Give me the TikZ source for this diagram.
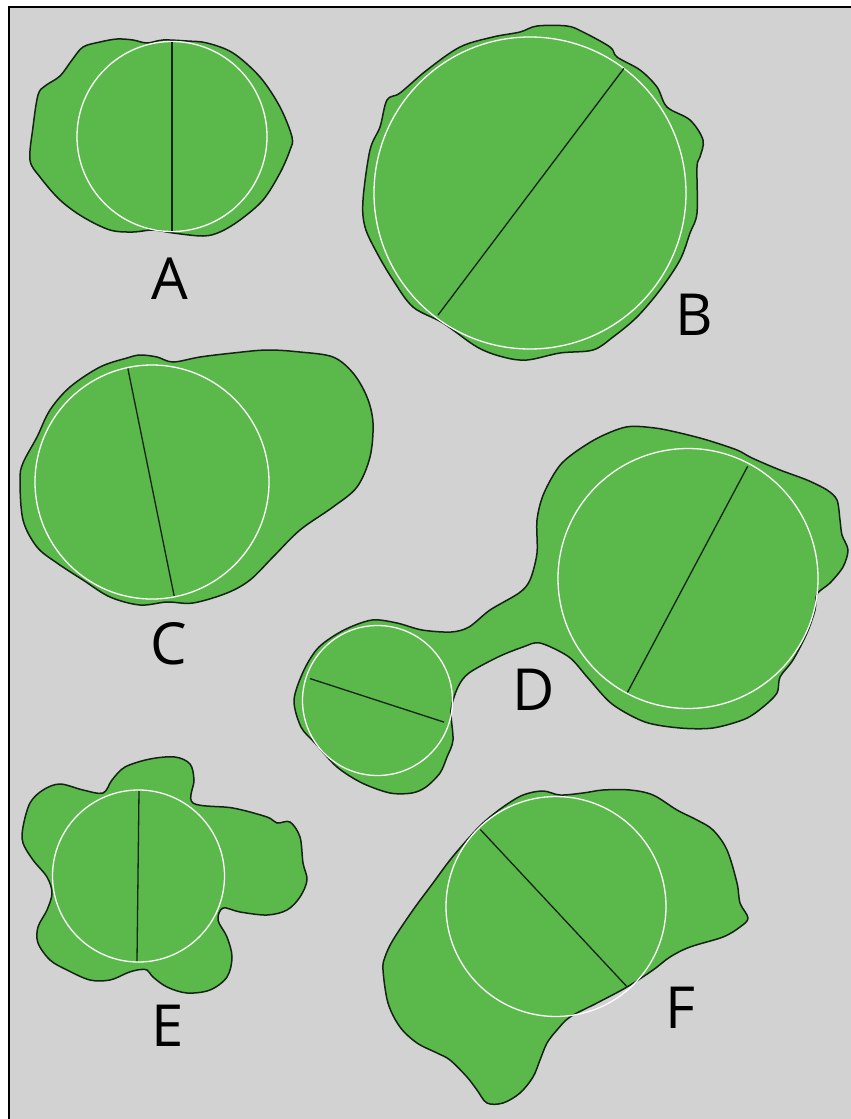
\documentclass[tikz,border=0pt]{standalone}
\usepackage{fontspec}
\usetikzlibrary{calc}
\newfontfamily\labelfont{Open Sans}
\definecolor{bggray}{RGB}{210,210,210}
\definecolor{leaf}{RGB}{90,185,74}
\definecolor{edge}{RGB}{20,35,20}
\tikzset{
  blob/.style={fill=leaf, draw=edge, line width=1.5pt, line join=round},
  ring/.style={draw=white, line width=1.3pt},
  diam/.style={draw=edge, line width=1.3pt},
  letter/.style={font=\labelfont\fontsize{58}{60}\selectfont, text=black, inner sep=0pt}
}
\begin{document}
\begin{tikzpicture}[x=1pt,y=-1pt]
\useasboundingbox (0,0) rectangle (851,1119);
\fill[white] (0,0) rectangle (851,1119);
\begin{scope}
\clip (0,0) rectangle (851,1119);
\draw[fill=bggray, draw=black, line width=2pt] (9,7) rectangle (860,1130);
\end{scope}

% ---------- A ----------
\draw[blob] plot[smooth cycle, tension=0.55] coordinates {
(72,60) (83,47) (100,42) (117,39) (133,40) (147,43) (163,40) (187,41) (207,43)
(233,53) (260,77) (280,107) (292,137) (290,150) (280,173) (263,200) (240,220)
(220,232) (203,236) (173,233) (153,230) (133,232) (110,230) (83,217) (60,200)
(40,177) (30,160) (33,127) (38,95) (45,86) (60,76)};
\coordinate (cA) at (172,136.5);
\draw[ring] (cA) circle[radius=95];
\coordinate (a1) at (172,42);
\coordinate (a2) at (172,231);
\draw[diam] (a1) -- (a2);
\node[letter] (lA) at (170,279) {A};

% ---------- B ----------
\draw[blob] plot[smooth cycle, tension=0.55] coordinates {
(363,200) (370,150) (380,127) (387,100) (400,93) (427,70) (460,47) (493,37)
(520,32) (537,26) (567,26) (583,32) (610,47) (617,57) (640,70) (657,87)
(667,107) (690,120) (703,140) (700,157) (697,167) (697,213) (690,233)
(680,260) (660,290) (637,317) (613,337) (593,350) (560,353) (527,360)
(503,357) (477,347) (443,323) (413,307) (393,280) (377,253) (365,227)};
\coordinate (cB) at (530,193);
\draw[ring] (cB) circle[radius=156];
\coordinate (b1) at ($(cB)+(-53:156)$);
\coordinate (b2) at ($(cB)+(127:153)$);
\draw[diam] (b1) -- (b2);
\node[letter] (lB) at (694,315) {B};

% ---------- C ----------
\draw[blob] plot[smooth cycle, tension=0.55] coordinates {
(20,480) (23,463) (37,437) (50,410) (70,387) (100,367) (127,358) (140,355)
(157,357) (173,362) (200,357) (233,353) (267,350) (300,352) (333,357)
(353,373) (367,397) (373,423) (370,457) (357,487) (333,507) (300,530)
(273,557) (250,580) (227,593) (193,603) (167,602) (140,605) (110,597)
(83,580) (57,563) (37,547) (23,520)};
\coordinate (cC) at (152,482);
\draw[ring] (cC) circle[radius=117];
\coordinate (c1) at ($(cC)+(258:116)$);
\coordinate (c2) at ($(cC)+(79:116)$);
\draw[diam] (c1) -- (c2);
\node[letter] (lC) at (169,644) {C};

% ---------- D ----------
\draw[blob] plot[smooth cycle, tension=0.5] coordinates {
(294,700) (304,670) (319,647) (344,630) (372,620) (397,623) (422,630)
(451,632) (469,627) (490,610) (519,593) (530,580) (537,553) (537,520)
(544,493) (562,463) (594,440) (626,427) (655,428) (680,433) (707,440)
(737,450) (752,458) (780,470) (807,480) (827,490) (837,500) (840,520)
(842,535) (848,550) (843,567) (830,583) (817,594) (815,610) (807,633)
(793,660) (780,677) (777,693) (763,707) (745,719) (713,728) (680,728)
(645,722) (612,704) (588,678) (569,657)
(540,643) (523,647) (498,657) (469,673) (458,687) (451,710) (453,740)
(447,757) (440,773) (426,787) (412,793) (390,793) (362,783) (337,767)
(315,743) (301,727)};
\coordinate (cD1) at (377.5,700.5);
\draw[ring] (cD1) circle[radius=75];
\coordinate (d1) at ($(cD1)+(198:71)$);
\coordinate (d2) at ($(cD1)+(18:70)$);
\draw[diam] (d1) -- (d2);
\coordinate (cD2) at (688,578.5);
\draw[ring] (cD2) circle[radius=130];
\coordinate (d3) at ($(cD2)+(-62:127)$);
\coordinate (d4) at ($(cD2)+(118:129)$);
\draw[diam] (d3) -- (d4);
\node[letter] (lD) at (534,690) {D};

% ---------- E ----------
\draw[blob] plot[smooth cycle, tension=0.55] coordinates {
(23,827) (30,803) (43,790) (60,784) (83,790) (103,793) (112,780) (125,767)
(150,759) (175,757) (190,764) (194,780) (193,803) (233,808) (267,817)
(277,823) (290,822) (300,837) (303,863) (307,880) (300,897) (287,910)
(267,915) (240,912) (223,908) (218,920) (227,937) (232,957) (227,977)
(210,990) (187,993) (167,987) (153,977) (147,970) (137,970) (127,973)
(110,980) (90,980) (67,970) (50,960) (38,943) (38,927) (47,910) (52,893)
(47,877) (33,860) (23,843)};
\coordinate (cE) at (138.5,876);
\draw[ring] (cE) circle[radius=86];
\coordinate (e1) at (139,791);
\coordinate (e2) at (137,961);
\draw[diam] (e1) -- (e2);
\node[letter] (lE) at (168,1026) {E};

% ---------- F ----------
\draw[blob] plot[smooth cycle, tension=0.55] coordinates {
(383,970) (385,957) (393,940) (413,910) (433,883) (450,860) (467,840)
(483,823) (503,807) (523,795) (543,791) (560,795) (583,793) (603,790)
(630,790) (653,795) (677,810) (697,820) (713,830) (727,850) (737,883)
(740,903) (748,918) (740,927) (723,937) (690,947) (670,957) (653,970)
(627,987) (597,1003) (570,1017) (557,1030) (547,1043) (540,1060)
(533,1077) (520,1093) (503,1103) (487,1103) (477,1090) (467,1077)
(450,1060) (437,1053) (417,1043) (400,1027) (388,1003)};
\coordinate (cF) at (556,906.5);
\draw[ring] (cF) circle[radius=110];
\coordinate (f1) at ($(cF)+(225.5:108)$);
\coordinate (f2) at ($(cF)+(48.5:107)$);
\draw[diam] (f1) -- (f2);
\node[letter] (lF) at (680,1008) {F};
\end{tikzpicture}
\end{document}
